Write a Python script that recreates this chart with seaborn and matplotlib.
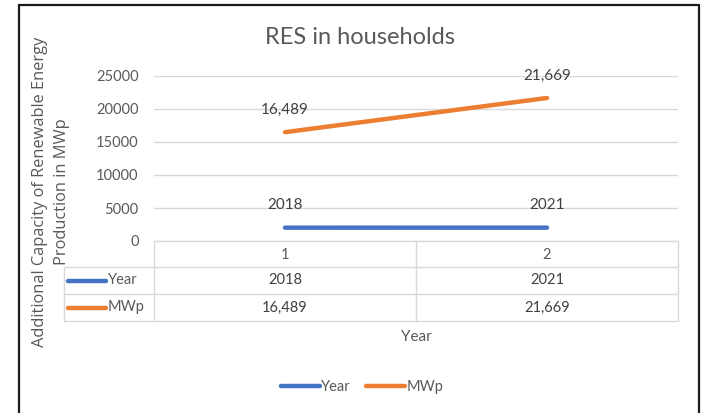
import pandas as pd
import numpy as np
import matplotlib.pyplot as plt
import seaborn as sns
from matplotlib.lines import Line2D
from matplotlib.transforms import blended_transform_factory

# data
categories = ["1", "2"]
series_names = ["Year", "MWp"]
year_values = [2018, 2021]
mwp_values = [16489, 21669]
year_labels = ["2018", "2021"]
mwp_labels = ["16,489", "21,669"]
y_ticks = [0, 5000, 10000, 15000, 20000, 25000]

colors = {"Year": "#4472C4", "MWp": "#ED7D31"}
text_col = "#595959"
grid_col = "#D9D9D9"

sns.set_theme(style="white")
plt.rcParams['font.family'] = ['Lato', 'DejaVu Sans']

df = pd.DataFrame({
    "x": list(range(len(categories))) * 2,
    "value": year_values + mwp_values,
    "series": ["Year"] * len(categories) + ["MWp"] * len(categories),
})

W, H = 702, 413
fig = plt.figure(figsize=(W / 100, H / 100), dpi=100)

# plot area in pixels
L, R, T, B = 154, 678, 76, 241
ax = fig.add_axes([L / W, 1 - B / H, (R - L) / W, (B - T) / H])

sns.lineplot(data=df, x="x", y="value", hue="series", palette=colors,
             hue_order=series_names, linewidth=3.2, ax=ax,
             solid_capstyle="round")

ax.set_xlim(-0.5, len(categories) - 0.5)
ax.set_ylim(0, 25000)
ax.set_yticks(y_ticks)
ax.set_yticklabels([str(t) for t in y_ticks])
ax.tick_params(axis="y", length=0, pad=11, labelsize=10.5, labelcolor=text_col)
ax.set_xticks(range(len(categories)))
ax.set_xticklabels(categories)
ax.tick_params(axis="x", length=0, pad=5, labelsize=10.5, labelcolor=text_col)
for s in ax.spines.values():
    s.set_visible(False)
ax.grid(axis="y", color=grid_col, linewidth=1.0)
ax.set_axisbelow(True)

# data labels
for vals, labs in [(year_values, year_labels), (mwp_values, mwp_labels)]:
    for i, (v, lab) in enumerate(zip(vals, labs)):
        ax.annotate(lab, (i, v), xytext=(0, 16), textcoords="offset points",
                    ha="center", va="center", fontsize=11, color="#404040")

ax.set_title("RES in households", fontsize=17, color=text_col, pad=0,
             x=(360 - L) / (R - L), y=(B - 38) / (B - T), va="center")

ax.set_ylabel("Additional Capacity of Renewable Energy\nProduction in MWp",
              fontsize=11.8, color=text_col, family=["Open Sans", "DejaVu Sans"],
              va="center", ha="center", linespacing=1.45)
ax.yaxis.set_label_coords((51 - L) / (R - L), (B - 192) / (B - T))

ax.set_xlabel("Year", fontsize=11, color=text_col, va="center")
ax.xaxis.set_label_coords(0.5, (B - 337) / (B - T))

# legend
handles, labels = ax.get_legend_handles_labels()
ax.get_legend().remove()
leg = fig.legend(handles, labels, loc="center", bbox_to_anchor=(362 / W, 1 - 387 / H),
                 ncol=2, frameon=False, handlelength=2.7, handletextpad=0.1,
                 columnspacing=1.0, fontsize=10.5)
for t in leg.get_texts():
    t.set_color(text_col)
for h in leg.legend_handles:
    h.set_solid_capstyle("round")

# data table below the plot
rows = [267, 294, 321]
tl = 64

def fy(py):
    return 1 - py / H

def hline(x0, x1, py):
    fig.add_artist(Line2D([x0 / W, x1 / W], [fy(py), fy(py)], color=grid_col,
                          lw=1.0, transform=fig.transFigure))

def vline(px, y0, y1):
    fig.add_artist(Line2D([px / W, px / W], [fy(y0), fy(y1)], color=grid_col,
                          lw=1.0, transform=fig.transFigure))

hline(L, R, B)
for py in rows:
    hline(tl, R, py)
vline(tl, rows[0], rows[-1])
for px in [L, (L + R) / 2, R]:
    vline(px, B, rows[-1])

trans = blended_transform_factory(ax.transData, fig.transFigure)
row_tops = [rows[0], rows[1]]
for name, labs, top in zip(series_names, [year_labels, mwp_labels], row_tops):
    yc = fy(top + 13.5)
    for i, lab in enumerate(labs):
        fig.text(i, yc, lab, transform=trans, ha="center", va="center",
                 fontsize=10.5, color="#404040")
    fig.add_artist(Line2D([68 / W, 106 / W], [yc, yc], color=colors[name], lw=3.2,
                          solid_capstyle="round", transform=fig.transFigure))
    fig.text(108 / W, yc, name, ha="left", va="center", fontsize=10.5, color=text_col)

# outer chart frame
frame_kw = dict(color="#1a1a1a", lw=1.6, transform=fig.transFigure)
fig.add_artist(Line2D([19 / W, 19 / W], [0, fy(5)], **frame_kw))
fig.add_artist(Line2D([19 / W, 699 / W], [fy(5), fy(5)], **frame_kw))
fig.add_artist(Line2D([699 / W, 699 / W], [fy(5), 0], **frame_kw))

fig.savefig("out.png", dpi=100)
